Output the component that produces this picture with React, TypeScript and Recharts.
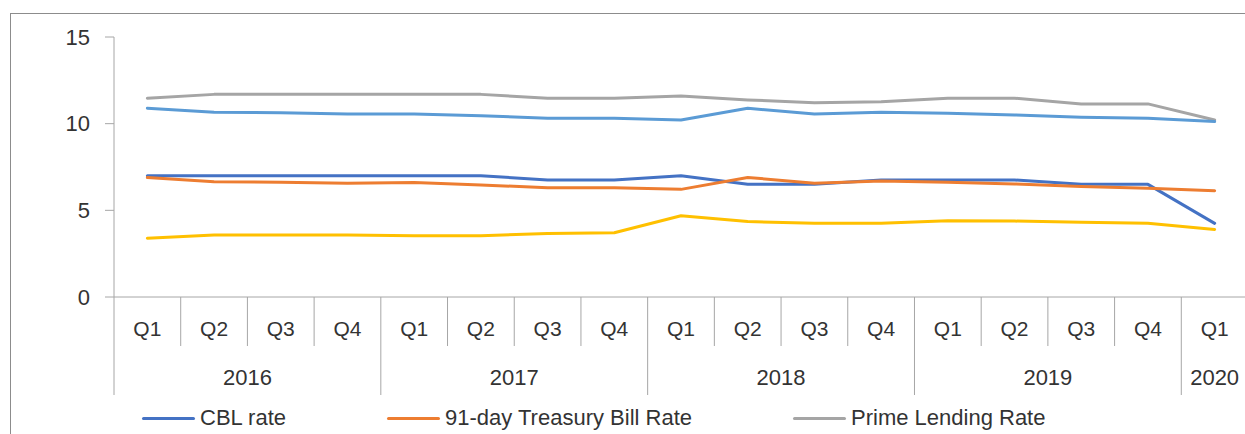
import React from 'react';
import { LineChart, Line, XAxis, YAxis } from 'recharts';

const quarters = ['Q1', 'Q2', 'Q3', 'Q4', 'Q1', 'Q2', 'Q3', 'Q4', 'Q1', 'Q2', 'Q3', 'Q4', 'Q1', 'Q2', 'Q3', 'Q4', 'Q1'];
const years = ['2016', '2016', '2016', '2016', '2017', '2017', '2017', '2017', '2018', '2018', '2018', '2018', '2019', '2019', '2019', '2019', '2020'];
const cblRate = [7.0, 7.0, 7.0, 7.0, 7.0, 7.0, 6.75, 6.75, 7.0, 6.5, 6.5, 6.75, 6.75, 6.75, 6.5, 6.5, 4.25];
const tBillRate = [6.89, 6.65, 6.62, 6.56, 6.6, 6.46, 6.31, 6.31, 6.21, 6.9, 6.56, 6.69, 6.62, 6.52, 6.37, 6.27, 6.13];
const primeRate = [11.47, 11.69, 11.69, 11.69, 11.69, 11.69, 11.47, 11.47, 11.6, 11.37, 11.21, 11.27, 11.47, 11.47, 11.14, 11.14, 10.21];
const depositRate = [3.39, 3.58, 3.58, 3.58, 3.54, 3.54, 3.67, 3.71, 4.69, 4.35, 4.25, 4.25, 4.4, 4.38, 4.31, 4.25, 3.9];
const lendingRate = [10.89, 10.66, 10.63, 10.56, 10.56, 10.46, 10.31, 10.31, 10.21, 10.89, 10.56, 10.66, 10.6, 10.5, 10.37, 10.31, 10.12];
const yTicks = [0, 5, 10, 15];

const legendItems = [
  { name: 'CBL rate', color: '#4472C4' },
  { name: '91-day Treasury Bill Rate', color: '#ED7D31' },
  { name: 'Prime Lending Rate', color: '#A5A5A5' },
];

const data = quarters.map((q, i) => ({
  key: `${years[i]}-${q}`,
  q,
  year: years[i],
  cbl: cblRate[i],
  tbill: tBillRate[i],
  prime: primeRate[i],
  deposit: depositRate[i],
  lending: lendingRate[i],
}));

const CHART_W = 1260;
const CHART_H = 434;
const M_TOP = 37;
const M_RIGHT = 12;
const Y_W = 114;
const AXIS_Y = 297;
const PLOT_W = CHART_W - M_RIGHT - Y_W;
const BAND = PLOT_W / quarters.length;
const AXIS_COLOR = '#A6A6A6';
const TEXT_COLOR = '#333333';
const FONT = '"Liberation Sans", Arial, sans-serif';

const QuarterTick = (props: any) => {
  const { x, y, payload } = props;
  const i: number = payload.index;
  const half = BAND / 2;
  const isYearStart = i === 0 || years[i] !== years[i - 1];
  const isLast = i === quarters.length - 1;
  let groupLen = 0;
  if (isYearStart) {
    let j = i;
    while (j < years.length && years[j] === years[i]) j++;
    groupLen = j - i;
  }
  return (
    <g>
      <line x1={x - half} x2={x - half} y1={y} y2={y + (isYearStart ? 98 : 49)} stroke={AXIS_COLOR} strokeWidth={1} />
      {isLast && <line x1={x + half} x2={x + half} y1={y} y2={y + 98} stroke={AXIS_COLOR} strokeWidth={1} />}
      <text x={x} y={y + 32} dy="0.355em" textAnchor="middle" fill={TEXT_COLOR} fontSize={21} fontFamily={FONT}>
        {quarters[i]}
      </text>
      {isYearStart && (
        <text x={x + ((groupLen - 1) / 2) * BAND} y={y + 80} dy="0.355em" textAnchor="middle" fill={TEXT_COLOR} fontSize={22} fontFamily={FONT}>
          {years[i]}
        </text>
      )}
    </g>
  );
};

export default function App() {
  return (
    <div style={{ position: 'fixed', left: 0, top: 0, width: 1245, height: 434, overflow: 'hidden', background: '#fff' }}>
      <div style={{ position: 'absolute', left: 10, top: 13, width: 1300, height: 500, border: '1px solid #8C8C8C', boxSizing: 'border-box' }} />
      <div style={{ position: 'absolute', left: 0, top: 0 }}>
        <LineChart width={CHART_W} height={CHART_H} data={data} margin={{ top: M_TOP, right: M_RIGHT, bottom: 0, left: 0 }}>
          <XAxis
            dataKey="key"
            height={CHART_H - AXIS_Y}
            interval={0}
            tickLine={false}
            tickSize={0}
            tickMargin={0}
            axisLine={{ stroke: AXIS_COLOR, strokeWidth: 1 }}
            padding={{ left: BAND / 2, right: BAND / 2 }}
            tick={<QuarterTick />}
          />
          <YAxis
            width={Y_W}
            domain={[0, 15]}
            ticks={yTicks}
            interval={0}
            tickSize={9}
            tickMargin={15}
            axisLine={{ stroke: AXIS_COLOR, strokeWidth: 1 }}
            tickLine={{ stroke: AXIS_COLOR, strokeWidth: 1 }}
            tick={{ fill: TEXT_COLOR, fontSize: 22, fontFamily: FONT }}
          />
          <Line type="linear" dataKey="cbl" name="CBL rate" stroke="#4472C4" strokeWidth={3} dot={false} strokeLinejoin="round" strokeLinecap="round" isAnimationActive={false} />
          <Line type="linear" dataKey="tbill" name="91-day Treasury Bill Rate" stroke="#ED7D31" strokeWidth={3} dot={false} strokeLinejoin="round" strokeLinecap="round" isAnimationActive={false} />
          <Line type="linear" dataKey="prime" name="Prime Lending Rate" stroke="#A5A5A5" strokeWidth={3} dot={false} strokeLinejoin="round" strokeLinecap="round" isAnimationActive={false} />
          <Line type="linear" dataKey="deposit" name="Deposit Rate" stroke="#FFC000" strokeWidth={3} dot={false} strokeLinejoin="round" strokeLinecap="round" isAnimationActive={false} />
          <Line type="linear" dataKey="lending" name="Lending Rate" stroke="#5B9BD5" strokeWidth={3} dot={false} strokeLinejoin="round" strokeLinecap="round" isAnimationActive={false} />
        </LineChart>
      </div>
      <div style={{ position: 'absolute', left: 142, top: 404, height: 28, display: 'flex', alignItems: 'center', gap: 101, fontFamily: FONT, fontSize: 22, color: TEXT_COLOR, whiteSpace: 'nowrap' }}>
        {legendItems.map((it) => (
          <div key={it.name} style={{ display: 'flex', alignItems: 'center' }}>
            <div style={{ width: 53, height: 3, background: it.color, borderRadius: 1.5, marginRight: 5 }} />
            <span>{it.name}</span>
          </div>
        ))}
      </div>
    </div>
  );
}
